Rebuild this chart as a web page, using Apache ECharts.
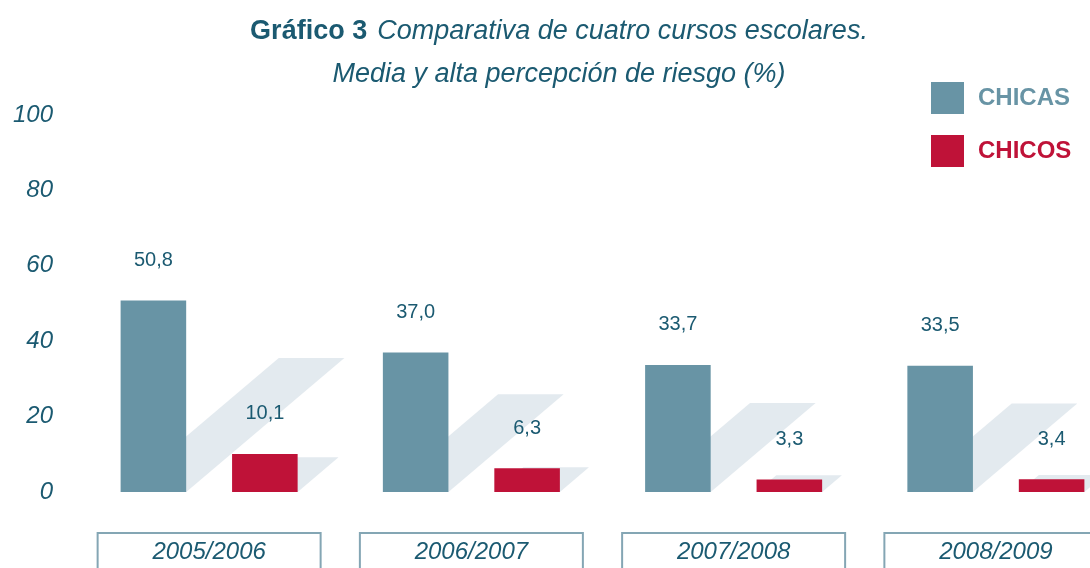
<!DOCTYPE html>
<html>
<head>
<meta charset="utf-8">
<script src="https://cdn.jsdelivr.net/npm/echarts@6/dist/echarts.min.js"></script>
<style>
  html, body { margin: 0; padding: 0; background: #fff; overflow: hidden; }
  /* el gráfico original está cortado por la derecha */
  #chart { width: 1127px; height: 568px; }
</style>
</head>
<body>
<div id="chart"></div>
<script>
// datos del gráfico
const cursos = ['2005/2006', '2006/2007', '2007/2008', '2008/2009']
const chicas = [50.8, 37.0, 33.7, 33.5]
const chicos = [10.1, 6.3, 3.3, 3.4]
const yTicks = [0, 20, 40, 60, 80, 100]

const TEAL = '#6894a5'
const RED = '#bf1238'
const TEXT = '#1b5a71'
const SHADOW = '#e3eaef'
const FONT = 'Liberation Sans'

const chart = echarts.init(document.getElementById('chart'))

const fmt = (p) => p.value.toFixed(1).replace('.', ',')

// sombra decorativa detrás de cada barra
function renderShadow (params, api) {
  const i = api.value(0)
  const base = api.coord([i, 0])
  const band = api.size([1, 0])[0]
  const barW = band * 0.25
  const gap = barW * 0.7
  const cx = base[0]
  const y0 = base[1]
  const children = []
  const bars = [
    { c: cx - (barW + gap) / 2, v: api.value(1), k: 0.7, add: 0 },
    { c: cx + (barW + gap) / 2, v: api.value(2), k: 0.7, add: 8 }
  ]
  bars.forEach(b => {
    const top = api.coord([i, b.v])[1]
    const h = (y0 - top) * b.k + b.add
    const dx = h * 1.18
    const x0 = b.c - barW / 2
    const x1 = b.c + barW / 2
    children.push({
      type: 'polygon',
      shape: { points: [[x0, y0], [x1, y0], [x1 + dx, y0 - h], [x0 + dx, y0 - h]] },
      style: { fill: SHADOW }
    })
  })
  return { type: 'group', children }
}

chart.setOption({
  backgroundColor: '#fff',
  animation: false,
  title: {
    left: 554,
    top: 5,
    textAlign: 'center',
    text: '{b|Gráfico 3}  {i|Comparativa de cuatro cursos escolares.}\n{i|Media y alta percepción de riesgo (%)}',
    textStyle: {
      rich: {
        b: { fontFamily: FONT, fontWeight: 'bold', fontSize: 27, color: TEXT, lineHeight: 43 },
        i: { fontFamily: FONT, fontWeight: 'normal', fontStyle: 'italic', fontSize: 27, color: TEXT, lineHeight: 43 }
      }
    }
  },
  legend: {
    orient: 'vertical',
    left: 926,
    top: 77,
    itemWidth: 33,
    itemHeight: 32,
    itemGap: 21,
    icon: 'rect',
    data: [
      { name: 'CHICAS', textStyle: { color: TEAL } },
      { name: 'CHICOS', textStyle: { color: RED } }
    ],
    textStyle: {
      fontFamily: FONT,
      fontWeight: 'bold',
      fontSize: 24,
      padding: [0, 0, 0, 9]
    }
  },
  grid: {
    left: 78,
    right: 0,
    top: 115,
    bottom: 76,
    outerBoundsMode: 'none'
  },
  xAxis: {
    type: 'category',
    data: cursos,
    axisLine: { show: false },
    axisTick: { show: false },
    axisLabel: {
      margin: 41,
      fontFamily: FONT,
      fontStyle: 'italic',
      fontSize: 24,
      color: TEXT,
      width: 223,
      height: 40,
      lineHeight: 38,
      verticalAlign: 'top',
      borderColor: '#84a6b4',
      borderWidth: 2,
      padding: [0, 0, 0, 0]
    }
  },
  yAxis: {
    type: 'value',
    min: yTicks[0],
    max: yTicks[yTicks.length - 1],
    interval: 20,
    axisLine: { show: false },
    axisTick: { show: false },
    splitLine: { show: false },
    axisLabel: {
      margin: 25,
      fontFamily: FONT,
      fontStyle: 'italic',
      fontSize: 24,
      color: TEXT
    }
  },
  series: [
    {
      type: 'custom',
      name: 'sombra',
      z: 1,
      silent: true,
      renderItem: renderShadow,
      encode: { x: 0, y: 1 },
      data: cursos.map((c, i) => [i, chicas[i], chicos[i]])
    },
    {
      name: 'CHICAS',
      type: 'bar',
      z: 3,
      barWidth: '25%',
      barGap: '70%',
      itemStyle: { color: TEAL },
      label: {
        show: true,
        position: 'top',
        distance: 30,
        formatter: fmt,
        fontFamily: FONT,
        fontSize: 20,
        color: TEXT
      },
      data: chicas
    },
    {
      name: 'CHICOS',
      type: 'bar',
      z: 3,
      barWidth: '25%',
      barGap: '70%',
      itemStyle: { color: RED },
      label: {
        show: true,
        position: 'top',
        distance: 30,
        formatter: fmt,
        fontFamily: FONT,
        fontSize: 20,
        color: TEXT
      },
      data: chicos
    }
  ]
})
</script>
</body>
</html>
